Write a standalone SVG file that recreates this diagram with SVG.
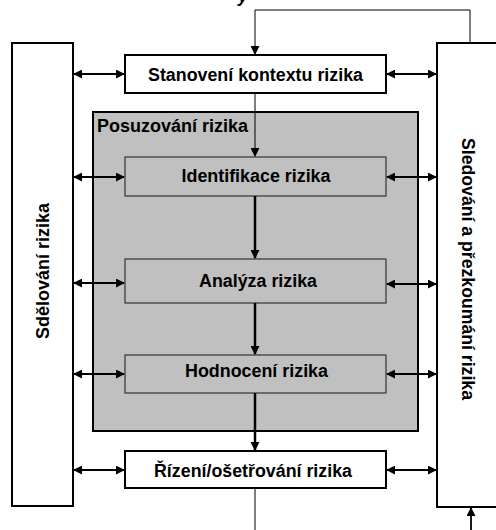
<svg xmlns="http://www.w3.org/2000/svg" width="496" height="530" viewBox="0 0 496 530">
<style>
.t{font-family:"Liberation Sans",Arial,sans-serif;font-weight:bold;font-size:18px;fill:#000}
.c{text-anchor:middle}
.wb{fill:#fff;stroke:#000;stroke-width:2}
.gb{fill:#c0c0c0;stroke:#333;stroke-width:1.2}
.thin{fill:none;stroke:#000;stroke-width:1}
.mid{fill:none;stroke:#000;stroke-width:1.8}
.thick{fill:none;stroke:#000;stroke-width:2.5}
</style>
<defs>
<marker id="ah" viewBox="0 0 10 10" refX="9" refY="5" markerWidth="9" markerHeight="9" markerUnits="userSpaceOnUse" orient="auto-start-reverse">
<path d="M0,0 L10,5 L0,10 Z" fill="#000"/>
</marker>
</defs>
<rect width="496" height="530" fill="#fff"/>
<text class="t" x="238" y="2" font-style="italic">y</text>

<g id="assessment">
<rect x="93" y="112" width="325" height="319" fill="#c0c0c0" stroke="#000" stroke-width="2"/>
<text class="t" x="97" y="132">Posuzování rizika</text>
</g>

<g id="communication">
<rect class="wb" x="12" y="43" width="61" height="463"/>
<text class="t c" transform="translate(49,271) rotate(-90)">Sdělování rizika</text>
</g>

<g id="monitoring">
<rect class="wb" x="437" y="43" width="70" height="464"/>
<text class="t c" transform="translate(462,269) rotate(90)" textLength="262" lengthAdjust="spacingAndGlyphs">Sledování a přezkoumání rizika</text>
</g>

<g id="context">
<rect class="wb" x="125" y="55" width="261" height="38"/>
<text class="t c" x="255.5" y="81" textLength="215" lengthAdjust="spacingAndGlyphs">Stanovení kontextu rizika</text>
</g>

<g id="identification">
<rect class="gb" x="125" y="157" width="261" height="39"/>
<text class="t c" x="256" y="182" textLength="149" lengthAdjust="spacingAndGlyphs">Identifikace rizika</text>
</g>

<g id="analysis">
<rect class="gb" x="125" y="259" width="261" height="44"/>
<text class="t c" x="258" y="287" textLength="118" lengthAdjust="spacingAndGlyphs">Analýza rizika</text>
</g>

<g id="evaluation">
<rect class="gb" x="125" y="355" width="261" height="38"/>
<text class="t c" x="256.5" y="377" textLength="143" lengthAdjust="spacingAndGlyphs">Hodnocení rizika</text>
</g>

<g id="treatment">
<rect class="wb" x="125" y="451" width="261" height="37"/>
<text class="t c" x="253" y="477" textLength="198" lengthAdjust="spacingAndGlyphs">Řízení/ošetřování rizika</text>
</g>

<g id="connectors">
<path class="thin" d="M470,43 V10 H255 V54" marker-end="url(#ah)"/>
<path class="thin" d="M255,93 V156" marker-end="url(#ah)"/>
<path class="thick" d="M255,196 V258" marker-end="url(#ah)"/>
<path class="thick" d="M255,303 V354" marker-end="url(#ah)"/>
<path class="thick" d="M255,393 V450" marker-end="url(#ah)"/>
<path class="thin" d="M255,488 V530"/>
<path class="mid" d="M471,530 V508" marker-end="url(#ah)"/>

<path class="mid" d="M74,74 H124" marker-start="url(#ah)" marker-end="url(#ah)"/>
<path class="mid" d="M387,74 H436" marker-start="url(#ah)" marker-end="url(#ah)"/>
<path class="mid" d="M74,177 H124" marker-start="url(#ah)" marker-end="url(#ah)"/>
<path class="mid" d="M387,177 H436" marker-start="url(#ah)" marker-end="url(#ah)"/>
<path class="mid" d="M74,283 H124" marker-start="url(#ah)" marker-end="url(#ah)"/>
<path class="mid" d="M387,284 H436" marker-start="url(#ah)" marker-end="url(#ah)"/>
<path class="mid" d="M74,374 H124" marker-start="url(#ah)" marker-end="url(#ah)"/>
<path class="mid" d="M387,374 H436" marker-start="url(#ah)" marker-end="url(#ah)"/>
<path class="mid" d="M74,470 H124" marker-start="url(#ah)" marker-end="url(#ah)"/>
<path class="mid" d="M387,470 H436" marker-start="url(#ah)" marker-end="url(#ah)"/>
</g>
</svg>
